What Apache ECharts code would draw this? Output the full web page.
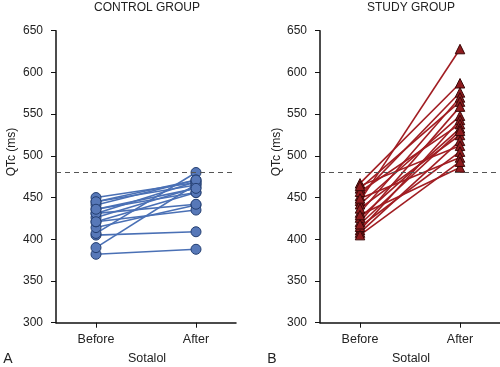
<!DOCTYPE html>
<html><head><meta charset="utf-8">
<script src="https://cdn.jsdelivr.net/npm/echarts@6/dist/echarts.min.js"></script>
<style>html,body{margin:0;padding:0;background:#fff}#c{width:500px;height:367px}</style>
</head><body><div id="c"></div>
<script>
var timeLabels = ['Before', 'After'];
var yTicks = [300, 350, 400, 450, 500, 550, 600, 650];
var threshold = 480;
var controlBefore = [382, 390, 405, 407, 414, 421, 426, 431, 436, 441, 445, 450, 431, 421, 445, 436];
var controlAfter  = [388, 466, 409, 480, 441, 435, 462, 469, 456, 471, 465, 468, 442, 456, 471, 461];
var studyBefore = [446, 467, 452, 432, 461, 421, 442, 411, 457, 426, 437, 408, 464, 415, 449, 429, 405, 418];
var studyAfter  = [628, 587, 576, 570, 565, 559, 548, 543, 538, 533, 525, 518, 512, 505, 498, 486, 493, 530];

var FONT = '"Liberation Sans", Arial, sans-serif';
var chart = echarts.init(document.getElementById('c'), null, {renderer: 'canvas'});

function xAxisFor(gi) {
  return {
    gridIndex: gi, type: 'value', min: 0.6, max: 2.4,
    axisLine: {show: true, lineStyle: {color: '#111', width: 1.5}},
    axisTick: {show: true, length: 5, customValues: [1, 2], lineStyle: {color: '#111', width: 1}},
    axisLabel: {customValues: [1, 2], margin: 10, fontFamily: FONT, fontSize: 12.5, color: '#222',
      formatter: function (v) { return timeLabels[Math.round(v) - 1] || ''; }},
    splitLine: {show: false}
  };
}
function yAxisFor(gi) {
  return {
    gridIndex: gi, type: 'value', min: yTicks[0], max: yTicks[yTicks.length - 1], interval: 50,
    axisLine: {show: true, lineStyle: {color: '#111', width: 1.5}},
    axisTick: {show: true, length: 5, lineStyle: {color: '#111', width: 1}},
    axisLabel: {margin: 13, fontFamily: FONT, fontSize: 12, color: '#222'},
    splitLine: {show: false}
  };
}

var series = [];
function addGroup(before, after, gi, opts) {
  for (var i = 0; i < before.length; i++) {
    var s = {
      type: 'line', xAxisIndex: gi, yAxisIndex: gi,
      data: [[1, before[i]], [2, after[i]]],
      symbol: opts.symbol, symbolSize: opts.size,
      lineStyle: {color: opts.line, width: 1.6},
      itemStyle: {color: opts.fill, borderColor: opts.border, borderWidth: 1},
      z: 3, animation: false, silent: true
    };
    if (i === 0) {
      s.markLine = {
        silent: true, symbol: 'none', label: {show: false},
        lineStyle: {color: '#555', type: [5, 4], width: 1},
        data: [{yAxis: threshold}], animation: false
      };
    }
    series.push(s);
  }
}
addGroup(controlBefore, controlAfter, 0, {symbol: 'circle', size: 10, line: '#4a70b5', fill: '#5778b8', border: '#243f72'});
addGroup(studyBefore, studyAfter, 1, {symbol: 'triangle', size: 9.5, line: '#a11d22', fill: '#8e1b1e', border: '#3a0808'});

function txt(x, y, s, size, extra) {
  var o = {type: 'text', x: x, y: y, style: {text: s, fontFamily: FONT, fontSize: size, fill: '#222', align: 'center', verticalAlign: 'middle'}};
  if (extra) for (var k in extra) o[k] = extra[k];
  return o;
}

chart.setOption({
  animation: false,
  backgroundColor: '#fff',
  grid: [
    {left: 56, top: 30.7, width: 180, height: 292},
    {left: 320, top: 30.7, width: 180, height: 292}
  ],
  xAxis: [xAxisFor(0), xAxisFor(1)],
  yAxis: [yAxisFor(0), yAxisFor(1)],
  series: series,
  graphic: [
    txt(147, 8, 'CONTROL GROUP', 12),
    txt(411, 8, 'STUDY GROUP', 12),
    txt(147, 359, 'Sotalol', 12.5),
    txt(411, 359, 'Sotalol', 12.5),
    txt(8, 359, 'A', 14),
    txt(272, 359, 'B', 14),
    txt(12, 152, 'QTc (ms)', 12, {rotation: Math.PI / 2}),
    txt(277, 152, 'QTc (ms)', 12, {rotation: Math.PI / 2})
  ]
});
</script></body></html>
